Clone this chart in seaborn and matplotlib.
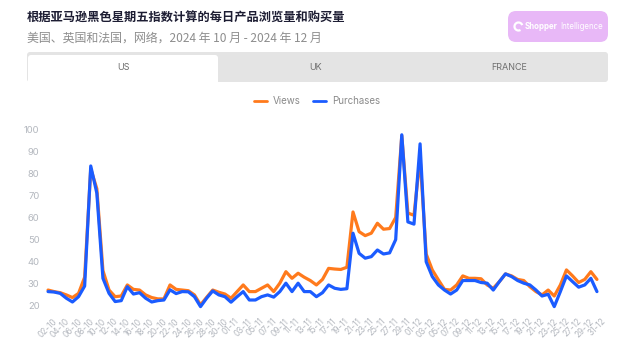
import numpy as np
import pandas as pd
import matplotlib.pyplot as plt
import seaborn as sns
from matplotlib.patches import FancyBboxPatch, Rectangle, Arc

# daily labels 02-10 ... 31-12
dates = pd.date_range('2024-10-02', '2024-12-31').strftime('%d-%m').tolist()

views = [27.2, 26.5, 26.0, 25.0, 23.8, 25.7, 33.0, 82.0, 73.0, 36.0,
         27.2, 24.2, 24.5, 29.5, 27.5, 27.2, 25.0, 23.8, 23.2, 23.2,
         29.5, 27.5, 27.2, 26.9, 25.0, 20.5, 23.9, 27.2, 26.2, 25.4,
         23.5, 26.5, 29.5, 26.5, 26.5, 28.0, 29.5, 26.5, 30.3, 35.5,
         32.5, 34.8, 33.0, 31.5, 29.5, 32.0, 37.0, 36.7, 36.5, 37.5,
         62.5, 53.6, 51.8, 52.9, 57.4, 54.7, 55.0, 60.0, 97.0, 62.0,
         61.0, 87.0, 43.5, 36.3, 31.8, 27.5, 27.2, 29.5, 33.6, 32.5,
         32.5, 32.3, 29.5, 28.0, 31.0, 34.5, 33.6, 32.0, 31.5, 28.7,
         26.5, 25.0, 27.2, 24.5, 29.5, 36.3, 33.6, 30.6, 32.0, 35.5,
         32.0]
purchases = [26.5, 26.3, 25.7, 23.5, 21.8, 24.2, 29.0, 83.3, 71.0, 32.5,
             25.7, 22.0, 22.4, 28.7, 25.4, 26.0, 23.5, 21.8, 22.4, 22.7,
             27.3, 25.6, 26.5, 26.4, 24.2, 19.7, 23.5, 26.8, 25.0, 24.2,
             21.7, 24.2, 26.5, 22.7, 22.7, 24.2, 25.0, 24.0, 26.5, 30.3,
             26.5, 30.3, 26.5, 26.5, 24.2, 26.0, 29.5, 28.0, 27.5, 27.8,
             52.9, 43.8, 41.6, 42.3, 45.3, 43.5, 44.0, 50.0, 97.4, 58.0,
             57.0, 93.3, 40.0, 33.3, 29.5, 27.2, 25.4, 27.2, 31.5, 31.5,
             31.5, 30.6, 30.3, 27.2, 31.0, 34.5, 33.3, 31.5, 30.3, 29.5,
             27.2, 24.5, 25.3, 19.7, 26.5, 33.6, 31.0, 28.5, 29.5, 32.5,
             26.5]

tabs = ['US', 'UK', 'FRANCE']
title = '根据亚马逊黑色星期五指数计算的每日产品浏览量和购买量'
subtitle = '美国、英国和法国，网络，2024 年 10 月 - 2024 年 12 月'

df = pd.DataFrame({'day': np.arange(len(dates)), 'Views': views, 'Purchases': purchases})
long = df.melt(id_vars='day', var_name='series', value_name='value')

sns.set_style('white')
plt.rcParams['font.family'] = ['Inter', 'Noto Sans CJK SC', 'DejaVu Sans']

fig = plt.figure(figsize=(6.29, 3.52), dpi=100)

# background layer in pixel coordinates (header, tabs, logo)
bg = fig.add_axes([0, 0, 1, 1])
bg.set_xlim(0, 629)
bg.set_ylim(352, 0)
bg.axis('off')

bg.add_patch(FancyBboxPatch((27, 52), 581, 30, boxstyle='round,pad=0,rounding_size=3',
                            fc='#e4e4e4', ec='none'))
bg.add_patch(FancyBboxPatch((28, 55), 190, 27, boxstyle='round,pad=0,rounding_size=3',
                            fc='white', ec='none'))
bg.add_patch(Rectangle((28, 70), 190, 14, fc='white', ec='none'))
for x, t in zip([123, 316, 509], tabs):
    bg.text(x, 67.5, t, ha='center', va='center', fontsize=6.5, color='#6e6e6e')

# logo box
bg.add_patch(FancyBboxPatch((508, 11), 100, 31, boxstyle='round,pad=0,rounding_size=8',
                            fc='#e8b8f7', ec='none'))
bg.add_patch(Arc((518.5, 26.5), 8, 8, theta1=60, theta2=340, color='white', lw=1.6))
bg.text(525, 26.8, 'Shopper', fontsize=5.7, fontweight='bold', color='white', va='center')
bg.text(560, 26.8, 'Intelligence', fontsize=5.7, color='white', va='center')

fig.text(27 / 629, 1 - 18 / 352, title, fontsize=8.8, fontweight='bold', color='#1d1d33',
         va='center', family=['Noto Sans CJK SC'])
fig.text(27 / 629, 1 - 38 / 352, subtitle, fontsize=8.6, color='#8d8d8d',
         va='center', family=['Noto Sans CJK SC'])

# main chart
ax = fig.add_axes([45 / 629, (352 - 312.6) / 352, 555 / 629, (312.6 - 124.6) / 352])
sns.lineplot(data=long, x='day', y='value', hue='series',
             palette={'Views': '#ff7a1c', 'Purchases': '#1b5cff'},
             linewidth=2.3, ax=ax, legend=False)
ax.set_xlim(-0.5, len(dates) - 0.5)
ax.set_ylim(17, 102)
ax.set_yticks(range(20, 101, 10))
ax.set_xticks(range(0, len(dates), 2))
ax.set_xticklabels(dates[::2], rotation=45, ha='center')
ax.tick_params(axis='both', length=0, colors='#b3b7be', labelsize=6.8)
ax.tick_params(axis='y', pad=4)
ax.tick_params(axis='x', pad=3, labelsize=6.0)
ax.set_xlabel('')
ax.set_ylabel('')
sns.despine(ax=ax, left=True, bottom=True)

handles = [plt.Line2D([], [], color='#ff7a1c', lw=2), plt.Line2D([], [], color='#1b5cff', lw=2)]
fig.legend(handles, ['Views', 'Purchases'], loc='center', bbox_to_anchor=(317 / 629, 1 - 101 / 352),
           ncol=2, frameon=False, fontsize=7, labelcolor='#8a8a8a',
           handlelength=1.4, handletextpad=0.6, columnspacing=1.2)

fig.savefig('out.png', dpi=100)
